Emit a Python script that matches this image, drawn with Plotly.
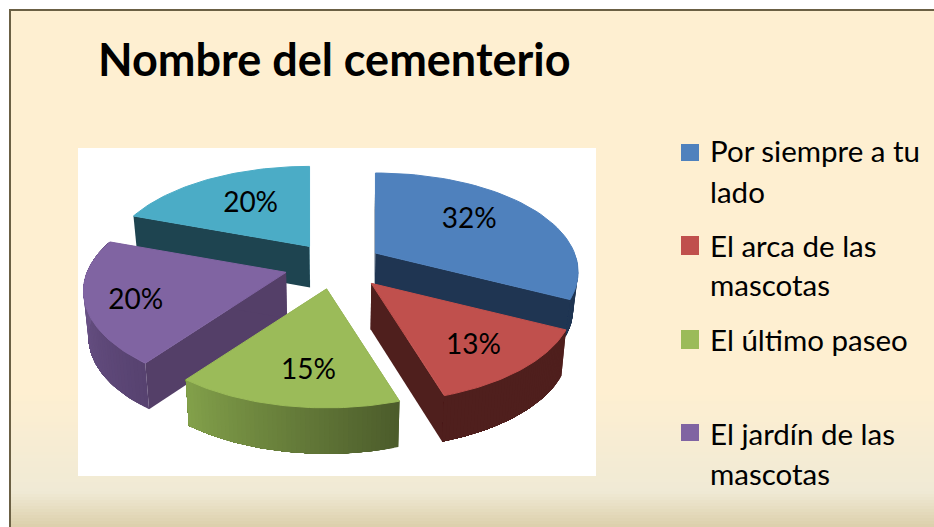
import math
import plotly.graph_objects as go

# ---- data ----
slice_names = ["Por siempre a tu lado", "El arca de las mascotas", "El último paseo",
               "El jardín de las mascotas", "Sin leyenda"]
slice_values = [32.1, 12.9, 15.49, 19.8, 19.71]
chart_title = "Nombre del cementerio"
legend_lines = [["Por siempre a tu", "lado"], ["El arca de las", "mascotas"],
                ["El último paseo"], ["El jardín de las", "mascotas"]]

# ---- styles ----
top_colors = ["#4F81BD", "#C0504D", "#9BBB59", "#8064A2", "#4BACC6"]
start_wall = ["#1F3552", "#4F1F1D", "#4C5C2B", "#543F68", "#1E4450"]
end_wall = ["#1F3552", "#4F1F1D", "#4C5C2B", "#543F68", "#3D93AB"]
outer_from = ["#1F3552", "#4F1F1D", "#4C5C2B", "#574270", "#1E4450"]
outer_to = ["#1F3552", "#4F1F1D", "#82A04A", "#735B92", "#1E4450"]
draw_order = [4, 0, 3, 1, 2]
label_rho = [0.6, 0.7, 0.7, 0.8, 0.55]
label_nudge = [(-1, -2), (1, 6), (9, 5), (9, 6), (-1, -1)]
slice_nudge_x = [-1, 4, 0, -2, 3]
slice_depth = [37, 46, 46, 46, 41]
legend_line_y = [[150, 191], [245, 284], [339], [433, 473]]
swatch_y = [(144, 161), (236, 255), (330, 349), (424, 441)]

W, H = 934, 527
CX, CY, R, SQ, PERSP, EXPLODE, EXPLODE_Y = 335, 265.6, 199, 0.5, 0.196, 49, 23.6
SHRINK = 0.98


def project(theta, rho=1.0):
    x, y = rho * math.sin(theta), -rho * math.cos(theta)
    p = 1 + PERSP * y
    return R * x * p, R * SQ * y * p


def lower(pt, depth):
    return CX + (pt[0] - CX) * SHRINK, pt[1] + depth


def mix(a, b, t):
    ca = [int(a[i:i + 2], 16) for i in (1, 3, 5)]
    cb = [int(b[i:i + 2], 16) for i in (1, 3, 5)]
    return "#%02X%02X%02X" % tuple(round(u + (v - u) * t) for u, v in zip(ca, cb))


fig = go.Figure()


def poly(pts, color, width=0):
    fig.add_trace(go.Scatter(x=[p[0] for p in pts] + [pts[0][0]], y=[p[1] for p in pts] + [pts[0][1]],
                             mode="lines", fill="toself", fillcolor=color,
                             line=dict(color=color, width=width), hoverinfo="skip", showlegend=False))


total = sum(slice_values)
angles = []
acc = 0
for v in slice_values:
    angles.append((acc / total * 2 * math.pi, (acc + v) / total * 2 * math.pi))
    acc += v

label_x, label_y, label_text = [], [], []
for i in draw_order:
    a0, a1 = angles[i]
    mid = (a0 + a1) / 2
    ax = CX + EXPLODE * math.sin(mid) + slice_nudge_x[i]
    ay = CY - EXPLODE_Y * math.cos(mid)
    depth = slice_depth[i]
    n = 48
    thetas = [a0 + (a1 - a0) * j / n for j in range(n + 1)]
    arc = []
    for t in thetas:
        px, py = project(t)
        arc.append((ax + px, ay + py))
    apex = (ax, ay)
    poly([apex, arc[0], lower(arc[0], depth), lower(apex, depth)], start_wall[i])
    poly([apex, arc[-1], lower(arc[-1], depth), lower(apex, depth)], end_wall[i])
    # outer wall, front part only: each band runs to the arc's end and the next paints over it
    for j in range(n):
        if -math.cos(thetas[j]) < -0.05:
            continue
        rest = arc[j:]
        poly(rest + [lower(p, depth) for p in reversed(rest)],
             mix(outer_from[i], outer_to[i], j / (n - 1)))
    poly([apex] + arc, top_colors[i], 1)
    lx, ly = project(mid, label_rho[i])
    label_x.append(ax + lx + label_nudge[i][0])
    label_y.append(ay + ly + label_nudge[i][1])
    label_text.append(f"{round(slice_values[i])}%")

fig.add_trace(go.Scatter(x=label_x, y=label_y, text=label_text, mode="text", textposition="middle center",
                         textfont=dict(family="Lato", size=28, color="#000000"),
                         hoverinfo="skip", showlegend=False))

shapes = []
# background gradient
stops = [(0, "#FEEFD1"), (390, "#FEEFD1"), (490, "#F0EAD5"), (527, "#DBCEA9")]
STEP = 3
for y in range(380, H, STEP):
    for (y0, c0), (y1, c1) in zip(stops, stops[1:]):
        if y0 <= y <= y1:
            col = mix(c0, c1, (y - y0) / (y1 - y0))
            break
    shapes.append(dict(type="rect", xref="x", yref="y", x0=0, x1=W, y0=y, y1=y + STEP,
                       fillcolor=col, line_width=0, layer="below"))
# outer frame
shapes.append(dict(type="rect", xref="x", yref="y", x0=0, x1=W, y0=0, y1=9, fillcolor="#FFFFFF", line_width=0, layer="below"))
shapes.append(dict(type="rect", xref="x", yref="y", x0=0, x1=9, y0=0, y1=H, fillcolor="#FFFFFF", line_width=0, layer="below"))
shapes.append(dict(type="rect", xref="x", yref="y", x0=9, x1=W, y0=9, y1=11, fillcolor="#6B6044", line_width=0, layer="below"))
shapes.append(dict(type="rect", xref="x", yref="y", x0=9, x1=11, y0=9, y1=H, fillcolor="#6B6044", line_width=0, layer="below"))
# white plot box
shapes.append(dict(type="rect", xref="x", yref="y", x0=78, x1=596, y0=148, y1=476, fillcolor="#FFFFFF", line_width=0, layer="below"))
# legend swatches
for k, (y0, y1) in enumerate(swatch_y):
    shapes.append(dict(type="rect", xref="x", yref="y", x0=681, x1=699, y0=y0, y1=y1,
                       fillcolor=top_colors[k], line_width=0, layer="above"))

annotations = []
for lines, ys in zip(legend_lines, legend_line_y):
    for line, y in zip(lines, ys):
        annotations.append(dict(x=708, y=y, xref="x", yref="y", text=line, showarrow=False,
                                xanchor="left", yanchor="middle",
                                font=dict(family="Lato", size=29.5, color="#000000")))

fig.update_layout(
    width=W, height=H, autosize=False, margin=dict(l=0, r=0, t=0, b=0),
    paper_bgcolor="#FEEFD1", plot_bgcolor="rgba(0,0,0,0)", showlegend=False,
    title=dict(text=chart_title, x=98 / W, xanchor="left", y=1 - 60 / H, yanchor="middle",
               font=dict(family="Lato", size=45, color="#000000", weight="bold")),
    xaxis=dict(range=[0, W], visible=False, fixedrange=True),
    yaxis=dict(range=[H, 0], visible=False, fixedrange=True),
    shapes=shapes, annotations=annotations,
)
fig.write_html("out.html", config={"displayModeBar": False},
               post_script="document.body.style.margin='0';")
